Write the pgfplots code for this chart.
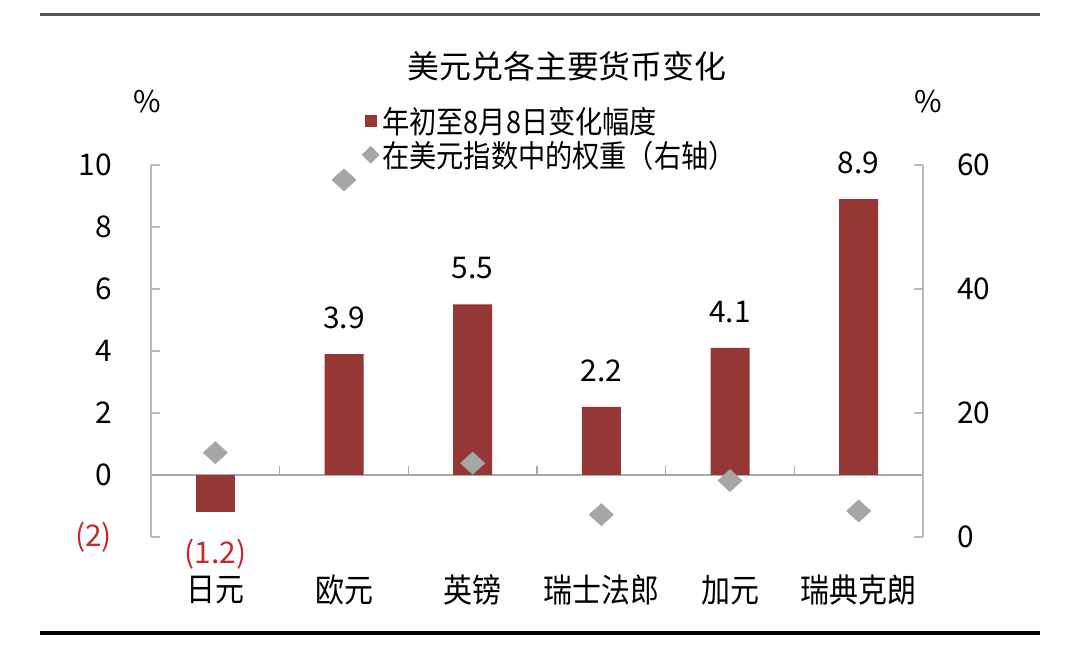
\documentclass[border=0pt]{standalone}
\usepackage{pgfplots}
\pgfplotsset{compat=1.18}
\usepackage{fontspec}
\setmainfont{Noto Sans CJK SC}
\newfontfamily\cjkn[FakeStretch=0.88]{Noto Sans CJK SC}
\definecolor{barred}{RGB}{149,55,53}
\definecolor{diagray}{RGB}{166,166,166}
\definecolor{axgray}{RGB}{185,185,185}
\definecolor{zerogray}{RGB}{170,170,170}
\definecolor{negred}{RGB}{200,40,50}
\definecolor{topgray}{RGB}{85,85,85}
\pgfdeclareplotmark{mydiamond}{%
  \pgfpathmoveto{\pgfqpoint{0bp}{11.5bp}}%
  \pgfpathlineto{\pgfqpoint{12.5bp}{0bp}}%
  \pgfpathlineto{\pgfqpoint{0bp}{-11.5bp}}%
  \pgfpathlineto{\pgfqpoint{-12.5bp}{0bp}}%
  \pgfpathclose\pgfusepathqfill}
\begin{document}
\begin{tikzpicture}[x=1bp,y=1bp]
\useasboundingbox (0,0) rectangle (1078,646);
\fill[white] (0,0) rectangle (1078,646);
\draw[line width=3bp, topgray] (40,631) -- (1040,631);
\draw[line width=4bp, black] (40,13) -- (1040,13);
\node[font=\fontsize{32}{38}\selectfont] at (567,580) {美元兑各主要货币变化};
\node[font=\fontsize{30}{36}\selectfont] at (147,544) {\%};
\node[font=\fontsize{30}{36}\selectfont] at (928,544) {\%};

\begin{axis}[
  at={(151bp,109bp)}, anchor=south west, width=772bp, height=372bp, scale only axis,
  xmin=-0.5, xmax=5.5, ymin=-2, ymax=10,
  axis y line*=left, axis x line*=bottom,
  x axis line style={draw=none},
  y axis line style={draw=axgray, line width=1.2bp},
  ytick={-2,0,2,4,6,8,10}, yticklabels={{\color{negred}(2)},0,2,4,6,8,10},
  xtick={0,1,2,3,4,5}, xticklabels={日元,欧元,英镑,瑞士法郎,加元,瑞典克朗},
  x tick style={draw=none},
  tick align=inside, major tick length=9bp,
  y tick style={draw=axgray, line width=1.2bp},
  yticklabel style={font=\fontsize{30}{36}\selectfont, anchor=east, inner sep=0pt, xshift=-39bp},
  xticklabel style={font=\cjkn\fontsize{33}{40}\selectfont, anchor=center, inner sep=0pt, yshift=-53bp},
  /pgf/number format/assume math mode=true,
  extra y ticks={0}, extra y tick labels={},
  extra y tick style={grid=major, major grid style={draw=zerogray, line width=1.8bp}, major tick length=0pt},
  clip=false,
]
\addplot[ybar, bar width=39bp, bar shift=0pt, fill=barred, draw=none,
  point meta=explicit symbolic, nodes near coords,
  every node near coord/.append style={font=\fontsize{30}{36}\selectfont, anchor=center, inner sep=0pt, yshift=36bp, text=black}]
  coordinates {(1,3.9)[3.9] (2,5.5)[5.5] (3,2.2)[2.2] (4,4.1)[4.1] (5,8.9)[8.9]};
\addplot[ybar, bar width=39bp, bar shift=0pt, fill=barred, draw=none,
  point meta=explicit symbolic, nodes near coords,
  every node near coord/.append style={font=\fontsize{30}{36}\selectfont, anchor=center, inner sep=0pt, yshift=-42bp, text=negred}]
  coordinates {(0,-1.2)[(1.2)]};
\draw[zerogray, line width=1.2bp] (axis cs:0.5,0) -- ++(0pt,9bp);
\draw[zerogray, line width=1.2bp] (axis cs:1.5,0) -- ++(0pt,9bp);
\draw[zerogray, line width=1.2bp] (axis cs:2.5,0) -- ++(0pt,9bp);
\draw[zerogray, line width=1.2bp] (axis cs:3.5,0) -- ++(0pt,9bp);
\draw[zerogray, line width=1.2bp] (axis cs:4.5,0) -- ++(0pt,9bp);
\end{axis}

\begin{axis}[
  at={(151bp,109bp)}, anchor=south west, width=772bp, height=372bp, scale only axis,
  xmin=-0.5, xmax=5.5, ymin=0, ymax=60,
  axis y line*=right, axis x line=none,
  y axis line style={draw=axgray, line width=1.2bp},
  ytick={0,20,40,60},
  tick align=inside, major tick length=9bp,
  y tick style={draw=axgray, line width=1.2bp},
  yticklabel style={font=\fontsize{30}{36}\selectfont, anchor=west, inner sep=0pt, xshift=34bp},
  /pgf/number format/assume math mode=true,
  clip=false,
  legend style={at={(0.273,1.164)}, anchor=north west, draw=none, fill=none, inner sep=0pt,
    row sep=0pt, font=\cjkn\fontsize{31}{37}\selectfont, nodes={inner sep=3bp}},
  legend cell align=left,
]
\addlegendimage{legend image code/.code={\fill[barred] (0bp,-5.5bp) rectangle (11bp,5.5bp);}}
\addlegendentry{年初至8月8日变化幅度}
\addplot[only marks, mark=mydiamond, color=diagray,
  legend image code/.code={\fill[diagray] (5.5bp,8.5bp) -- (14bp,0bp) -- (5.5bp,-8.5bp) -- (-3bp,0bp) -- cycle;}]
  coordinates {(0,13.6) (1,57.6) (2,11.9) (3,3.6) (4,9.1) (5,4.2)};
\addlegendentry{在美元指数中的权重（右轴）}
\end{axis}
\end{tikzpicture}
\end{document}
